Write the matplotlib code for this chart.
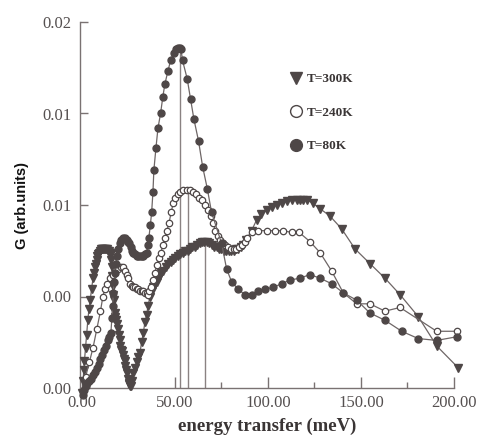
import matplotlib
matplotlib.use("Agg")
import matplotlib.pyplot as plt
from matplotlib.lines import Line2D

# ---------------- data ----------------
x300 = [0.3, 0.7, 1.0, 1.4, 2.0, 2.5, 3.2, 3.8, 4.5, 5.2, 6.0, 6.5, 7.0, 7.5, 7.9, 8.4, 8.8,
        9.3, 9.7, 10.2, 10.6, 11.0, 11.5, 12.0, 12.5, 13.0, 13.5, 14.0, 14.5, 15.0, 15.5,
        15.8, 16.1, 16.4, 16.7, 17.0, 17.2, 17.6, 18.0, 18.4, 18.9, 19.4, 19.8, 20.3, 20.7,
        21.1, 21.5, 22.0, 22.5, 23.0, 23.4, 23.8, 24.2, 24.7, 25.1, 25.6, 26.0, 26.5, 26.9,
        27.4, 28.4, 29.4, 30.3, 31.2, 32.1, 33.0, 33.9, 34.8, 35.6, 36.6, 37.5, 38.3, 39.2,
        40.2, 41.0, 41.9, 42.8, 43.7, 45.0, 46.4, 47.7, 49.0, 50.3, 51.6, 52.9, 54.2, 55.5,
        56.8, 58.1, 59.4, 60.7, 62.0, 63.3, 64.6, 65.9, 67.2, 68.5, 69.8, 71.1, 72.4, 73.7,
        75.0, 76.3, 77.6, 78.9, 80.2, 81.5, 82.8, 84.1, 85.4, 86.7, 88.3, 91.2, 94.0, 96.5,
        99.3, 102.0, 104.7, 107.5, 110.0, 112.8, 115.4, 117.2, 119.0, 120.8, 124.0, 128.0,
        133.3, 139.6, 146.8, 154.8, 162.9, 171.0, 180.8, 190.7, 202.3]
y300 = [-0.0003, 0.0004, 0.0010, 0.0015, 0.0022, 0.0029, 0.0037, 0.0043, 0.0048, 0.0054,
        0.0060, 0.0063, 0.0066, 0.0068, 0.0070, 0.0072, 0.0073, 0.0074, 0.0075, 0.0076,
        0.0076, 0.0076, 0.0076, 0.0076, 0.0076, 0.0076, 0.0076, 0.0075, 0.0075, 0.0074,
        0.0073, 0.0070, 0.0066, 0.0061, 0.0056, 0.0051, 0.0048, 0.0041, 0.0039, 0.0037,
        0.0035, 0.0032, 0.0029, 0.0026, 0.0023, 0.0021, 0.0020, 0.0018, 0.0016, 0.0015,
        0.0012, 0.0010, 0.0008, 0.0005, 0.0003, 0.0002, 0.0001, 0.0001, 0.0004, 0.0008,
        0.0011, 0.0014, 0.0017, 0.0019, 0.0025, 0.0030, 0.0036, 0.0040, 0.0045, 0.0050,
        0.0053, 0.0055, 0.0057, 0.0058, 0.0060, 0.0062, 0.0063, 0.0064, 0.0066, 0.0068,
        0.0069, 0.0070, 0.0071, 0.0072, 0.0073, 0.0074, 0.0075, 0.0075, 0.0076, 0.0077,
        0.0077, 0.0078, 0.0079, 0.0080, 0.0080, 0.0080, 0.0079, 0.0078, 0.0077, 0.0077,
        0.0076, 0.0076, 0.0075, 0.0075, 0.0075, 0.0075, 0.0075, 0.0076, 0.0076, 0.0077,
        0.0078, 0.0081, 0.0086, 0.0092, 0.0095, 0.0097, 0.0099, 0.0100, 0.0101, 0.0102,
        0.0103, 0.0103, 0.0103, 0.0103, 0.0103, 0.0101, 0.0098, 0.0094, 0.0087, 0.0076,
        0.0068, 0.0060, 0.0051, 0.0039, 0.0023, 0.0011]

x240 = [0.5, 2.0, 4.0, 6.0, 8.0, 10.0, 11.3, 12.3, 13.5, 15.0, 16.5, 18.0, 19.5, 21.0, 22.0,
        23.0, 24.0, 25.0, 25.8, 26.7, 27.5, 28.4, 29.4, 30.3, 31.2, 32.1, 33.0, 33.9, 34.8,
        35.5, 36.3, 37.1, 38.2, 39.2, 40.3, 41.4, 42.5, 43.5, 44.6, 45.7, 46.8, 48.0, 49.1,
        50.3, 51.6, 53.0, 54.6, 56.3, 58.0, 59.6, 61.2, 62.8, 64.4, 66.0, 67.6, 69.2, 70.5,
        71.8, 73.1, 74.4, 75.7, 77.0, 78.5, 80.0, 81.5, 83.0, 84.5, 86.0, 87.5, 89.0, 91.2,
        94.8, 99.3, 103.8, 108.2, 112.7, 116.8, 122.6, 128.0, 134.2, 140.5, 147.7, 154.8,
        162.9, 171.0, 190.7, 201.5]
y240 = [-0.0002, 0.0006, 0.0014, 0.0022, 0.0032, 0.0042, 0.0050, 0.0054, 0.0057, 0.0060,
        0.0062, 0.0064, 0.0065, 0.0066, 0.0066, 0.0064, 0.0062, 0.0060, 0.0057, 0.0056,
        0.0055, 0.0055, 0.0054, 0.0054, 0.0053, 0.0053, 0.0053, 0.0052, 0.0052, 0.0051,
        0.0053, 0.0055, 0.0059, 0.0063, 0.0067, 0.0071, 0.0074, 0.0078, 0.0082, 0.0086,
        0.0090, 0.0096, 0.0101, 0.0104, 0.0106, 0.0107, 0.0108, 0.0108, 0.0108, 0.0107,
        0.0106, 0.0104, 0.0103, 0.0100, 0.0097, 0.0094, 0.0090, 0.0086, 0.0083, 0.0081,
        0.0079, 0.0078, 0.0077, 0.0076, 0.0076, 0.0076, 0.0077, 0.0078, 0.0080, 0.0082,
        0.0085, 0.0086, 0.0086, 0.0086, 0.0086, 0.0085, 0.0085, 0.0080, 0.0074, 0.0064,
        0.0052, 0.0046, 0.0046, 0.0042, 0.0044, 0.0031, 0.0031]

x80 = [0.5, 1.2, 2.0, 3.0, 4.0, 5.0, 6.0, 7.0, 8.0, 9.0, 10.0, 11.0, 12.0, 13.0, 14.0, 14.8,
       15.6, 16.1, 16.5, 16.9, 17.2, 17.7, 18.2, 18.8, 19.5, 20.4, 21.3, 22.1, 23.0, 24.0,
       24.9, 25.5, 26.2, 26.9, 27.6, 28.5, 29.4, 30.3, 31.2, 32.1, 33.0, 33.9, 34.8, 35.5,
       36.0, 36.8, 37.5, 38.2, 38.7, 39.8, 40.9, 42.3, 43.5, 44.6, 46.2, 47.7, 49.3, 50.5,
       51.5, 52.5, 53.3, 54.1, 56.6, 58.4, 60.2, 62.7, 64.9, 67.4, 69.7, 75.1, 77.8, 80.5,
       84.0, 87.6, 91.2, 94.8, 98.4, 102.8, 107.4, 111.8, 117.2, 122.6, 128.0, 134.2, 140.5,
       147.7, 154.8, 162.9, 171.9, 180.8, 190.7, 201.5]
y80 = [-0.0004, -0.0001, 0.0001, 0.0003, 0.0004, 0.0005, 0.0007, 0.0009, 0.0011, 0.0013,
       0.0016, 0.0018, 0.0021, 0.0023, 0.0026, 0.0028, 0.0030, 0.0038, 0.0045, 0.0052,
       0.0058, 0.0063, 0.0068, 0.0072, 0.0076, 0.0079, 0.0081, 0.0082, 0.0082, 0.0081,
       0.0080, 0.0079, 0.0077, 0.0075, 0.0074, 0.0073, 0.0072, 0.0072, 0.0072, 0.0072,
       0.0072, 0.0073, 0.0074, 0.0078, 0.0082, 0.0089, 0.0096, 0.0107, 0.0119, 0.0131,
       0.0142, 0.0150, 0.0159, 0.0166, 0.0173, 0.0179, 0.0183, 0.0185, 0.0186, 0.0186,
       0.0185, 0.0179, 0.0169, 0.0158, 0.0147, 0.0135, 0.0121, 0.0109, 0.0096, 0.0079,
       0.0065, 0.0058, 0.0054, 0.0051, 0.0051, 0.0053, 0.0054, 0.0055, 0.0057, 0.0059,
       0.0060, 0.0062, 0.0060, 0.0057, 0.0052, 0.0048, 0.0041, 0.0037, 0.0031, 0.0027,
       0.0026, 0.0028]

peak_x = [52.5, 57.0, 66.0]
peak_y = [0.0186, 0.0108, 0.0080]

xticks = [0, 50, 100, 150, 200]
xticklabels = ["0.00", "50.00", "100.00", "150.00", "200.00"]
xminor = [25, 75, 125, 175]
yticks = [0.0, 0.005, 0.010, 0.015, 0.020]
yticklabels = ["0.00", "0.00", "0.01", "0.01", "0.02"]
labels = ["T=300K", "T=240K", "T=80K"]

# ---------------- style ----------------
ink = "#4e4747"
line_c = "#6e6666"
serif = ["Liberation Serif", "DejaVu Serif"]

fig = plt.figure(figsize=(4.79, 4.40), dpi=100)
ax = fig.add_axes([80 / 479, 52 / 440, 374 / 479, 366 / 440])

ax.vlines(peak_x, 0, peak_y, color="#8a8282", lw=1.0, zorder=1)

l300, = ax.plot(x300, y300, color=line_c, lw=0.9, marker="v", ms=6.4,
                mfc=ink, mec=ink, clip_on=False, zorder=3)
l240, = ax.plot(x240, y240, color=line_c, lw=0.9, marker="o", ms=4.6,
                mfc="white", mec=ink, mew=0.9, clip_on=False, zorder=4)
l80, = ax.plot(x80, y80, color=line_c, lw=0.9, marker="o", ms=5.0,
               mfc=ink, mec=ink, clip_on=False, zorder=5)

ax.set_xlim(-1, 200)
ax.set_ylim(0, 0.02)
for s in ["top", "right"]:
    ax.spines[s].set_visible(False)
for s in ["left", "bottom"]:
    ax.spines[s].set_color("#7a7272")
    ax.spines[s].set_linewidth(1.0)

ax.set_xticks(xticks)
ax.set_xticklabels(xticklabels)
ax.set_xticks(xminor, minor=True)
ax.set_yticks(yticks)
ax.set_yticklabels(yticklabels)
ax.tick_params(axis="x", which="major", direction="in", length=8, width=1,
               color="#7a7272", pad=5, labelsize=12, labelcolor="#555050")
ax.tick_params(axis="x", which="minor", direction="in", length=4, width=1,
               color="#7a7272")
ax.tick_params(axis="y", which="major", direction="in", length=6, width=1,
               color="#7a7272", pad=6, labelsize=12, labelcolor="#555050")
for t in ax.get_xticklabels() + ax.get_yticklabels():
    t.set_fontfamily(serif)

ax.set_xlabel("energy transfer (meV)", fontsize=13.5, fontweight="bold",
              family=serif, color="#3a3535", labelpad=5)
ax.set_ylabel("G (arb.units)", fontsize=10.5, fontweight="bold",
              family=["Liberation Sans", "DejaVu Sans"], color="#111111", labelpad=10)

h300 = Line2D([], [], ls="none", marker="v", ms=9, mfc=ink, mec=ink)
h240 = Line2D([], [], ls="none", marker="o", ms=8.5, mfc="white", mec=ink, mew=1.0)
h80 = Line2D([], [], ls="none", marker="o", ms=8.5, mfc=ink, mec=ink)
leg = ax.legend([h300, h240, h80], labels, loc="upper left",
                bbox_to_anchor=(0.56, 0.86), frameon=False,
                prop={"family": serif, "weight": "bold", "size": 9.5},
                labelspacing=1.6, handlelength=1.0, handletextpad=0.35,
                borderaxespad=0, borderpad=0)
for t in leg.get_texts():
    t.set_color("#3a3535")

fig.savefig("out.png", dpi=100, facecolor="white")
